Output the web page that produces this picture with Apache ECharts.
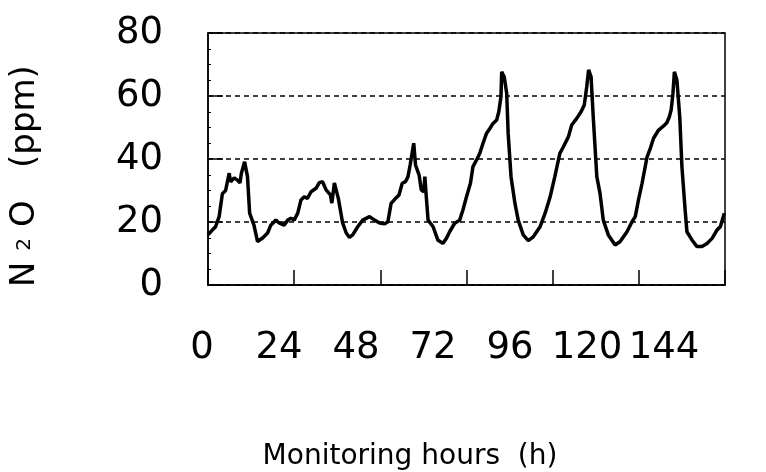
<!DOCTYPE html>
<html>
<head>
    <meta charset="utf-8">
    <title>N2O monitoring</title>
    <script src="https://cdn.jsdelivr.net/npm/echarts@6/dist/echarts.min.js"></script>
</head>
<body style="margin:0;background:#fff;">
    <div id="main" style="width: 766px;height:472px;"></div>
    <script type="text/javascript">
        // hours since start of monitoring
        var hours = [
            0, 1, 2.1, 3.1, 4, 4.9, 5.9, 6.3, 7.3, 8.2, 8.9, 9.3, 10.2, 11, 11.6, 12.8, 13.8, 15.2, 16.6, 17.5,
            18.9, 19.8, 21.2, 22.2, 23.1, 24, 25, 25.9, 26.8, 27.7, 28.7, 30.1, 31, 31.9, 32.9, 34.1, 34.5, 35.2, 36.3, 37.5,
            38.5, 39.4, 40.3, 41.7, 43.1, 45, 46.4, 47.8, 49.2, 50.1, 51, 52, 53.2, 54.1, 55, 55.7, 56.3, 57.3, 57.8, 58.8,
            59.4, 60.1, 60.4, 60.8, 61.3, 62.7, 64, 65.4, 66.4, 67.3, 68.7, 70.1, 71, 72, 73.1, 73.8, 74.8, 75.7, 76.6, 77.6,
            78.5, 79.4, 80.4, 81, 81.6, 81.8, 82.5, 83.2, 83.6, 84.4, 85.5, 86.4, 87.8, 89.2, 90.6, 92.5, 93.9, 95.3, 96.6, 98,
            99, 100.4, 101.3, 102.7, 103.9, 104.8, 105.5, 106, 106.7, 107.3, 108.3, 109.2, 110.1, 111.5, 113.4, 114.8, 116.7, 118.1, 119, 119.9,
            120.9, 122.3, 123.2, 124.1, 125.5, 126.9, 127.8, 128.5, 129, 129.5, 129.9, 130.6, 131.4, 132, 132.9, 133.4, 134.8, 136.2, 137.6, 139,
            140.4, 141.8, 142.7, 143.8
        ];
        // N2O concentration (ppm)
        var n2o = [
            15.9, 17.2, 18.5, 21.7, 29, 30, 35.5, 32.8, 34, 33.3, 32.4, 35.5, 39.1, 34.4, 22.8, 19, 13.8, 14.9, 16.5, 19,
            20.6, 19.7, 19, 20.6, 21.2, 20.6, 22.8, 27, 28, 27.5, 29.6, 30.7, 32.5, 32.8, 30.2, 28.6, 26, 32.4, 27.5, 19.7,
            16.5, 15.1, 15.9, 18.5, 20.6, 21.7, 20.6, 19.7, 19.4, 20.1, 25.9, 27.2, 28.6, 32.3, 32.8, 34.4, 38.1, 45, 38.1, 34.9,
            30.2, 29.6, 34.4, 28, 20.6, 18.5, 14.3, 13.2, 14.8, 16.9, 19.6, 20.6, 23.8, 28, 32.3, 37.6, 39.7, 41.8, 45, 48.2,
            49.7, 51.3, 52.4, 55, 59.8, 67.7, 66.1, 60.8, 48.2, 34.4, 25.9, 20.6, 15.9, 14.1, 15.3, 18.5, 22.8, 28, 34.4, 41.8,
            43.9, 47.1, 50.8, 52.9, 55, 57.1, 63, 68.3, 66.1, 53.4, 34.4, 29, 20.6, 15.9, 12.7, 13.8, 16.9, 20.1, 21.7, 27,
            32.3, 40.7, 43.4, 46.6, 49.2, 50.5, 51.5, 53.4, 55.6, 60.8, 67.7, 65.1, 53.4, 37.6, 23.8, 16.9, 14.3, 12.2, 12.2, 13.2,
            14.8, 17.5, 18.5, 22.8
        ];
        var xTicks = [0, 24, 48, 72, 96, 120, 144];
        var yTicks = [0, 20, 40, 60, 80];

        var points = hours.map(function (h, i) { return [h, n2o[i]]; });

        var myChart = echarts.init(document.getElementById('main'));
        var font = 'DejaVu Sans';

        var option = {
            backgroundColor: '#fff',
            animation: false,
            grid: [{
                left: 208, top: 33, width: 517, height: 252,
                show: true, borderColor: '#000', borderWidth: 1.5
            }, {
                // only carries the hour labels and the axis title
                left: 202, top: 284, width: 462, height: 1
            }],
            xAxis: [{
                type: 'value', gridIndex: 0,
                min: xTicks[0], max: xTicks[xTicks.length - 1], interval: 24,
                axisLine: { show: true, lineStyle: { color: '#000', width: 1.5 } },
                axisTick: { show: true, inside: true, length: 15, lineStyle: { color: '#000', width: 1.5 } },
                axisLabel: { show: false },
                splitLine: { show: false }
            }, {
                type: 'value', gridIndex: 1,
                min: xTicks[0], max: xTicks[xTicks.length - 1], interval: 24,
                axisLine: { show: false },
                axisTick: { show: false },
                splitLine: { show: false },
                axisLabel: {
                    margin: 45, color: '#000', fontFamily: font, fontSize: 37,
                    formatter: function (v) { return xTicks.indexOf(v) >= 0 ? String(v) : ''; }
                },
                name: 'Monitoring hours  (h)',
                nameLocation: 'middle',
                nameGap: 158,
                nameTextStyle: { color: '#000', fontFamily: font, fontSize: 28, padding: [0, 46, 0, 0] }
            }],
            yAxis: [{
                type: 'value', gridIndex: 0,
                min: yTicks[0], max: yTicks[yTicks.length - 1], interval: 20,
                axisLine: { show: true, lineStyle: { color: '#000', width: 1.5 } },
                axisTick: { show: true, inside: true, length: 15, lineStyle: { color: '#000', width: 1.5 } },
                minorTick: { show: true, splitNumber: 4, length: 3, lineStyle: { color: '#000', width: 1 } },
                axisLabel: { margin: 45, color: '#000', fontFamily: font, fontSize: 37 },
                splitLine: { show: true, lineStyle: { color: '#000', width: 1.5, type: [5, 4] } },
                name: '{n|N} {s|2} {n|O}   {n|(ppm)}',
                nameLocation: 'middle',
                nameGap: 166,
                nameTextStyle: {
                    color: '#000', fontFamily: font, fontSize: 34, padding: [0, 34, 0, 0],
                    rich: {
                        n: { fontFamily: font, fontSize: 34, color: '#000' },
                        s: { fontFamily: font, fontSize: 20, color: '#000' }
                    }
                }
            }, {
                type: 'value', gridIndex: 1, show: false
            }],
            series: [{
                type: 'line',
                xAxisIndex: 0, yAxisIndex: 0,
                data: points,
                showSymbol: false,
                smooth: false,
                lineStyle: { color: '#000', width: 3.5 }
            }]
        };

        myChart.setOption(option);
    </script>
</body>
</html>
